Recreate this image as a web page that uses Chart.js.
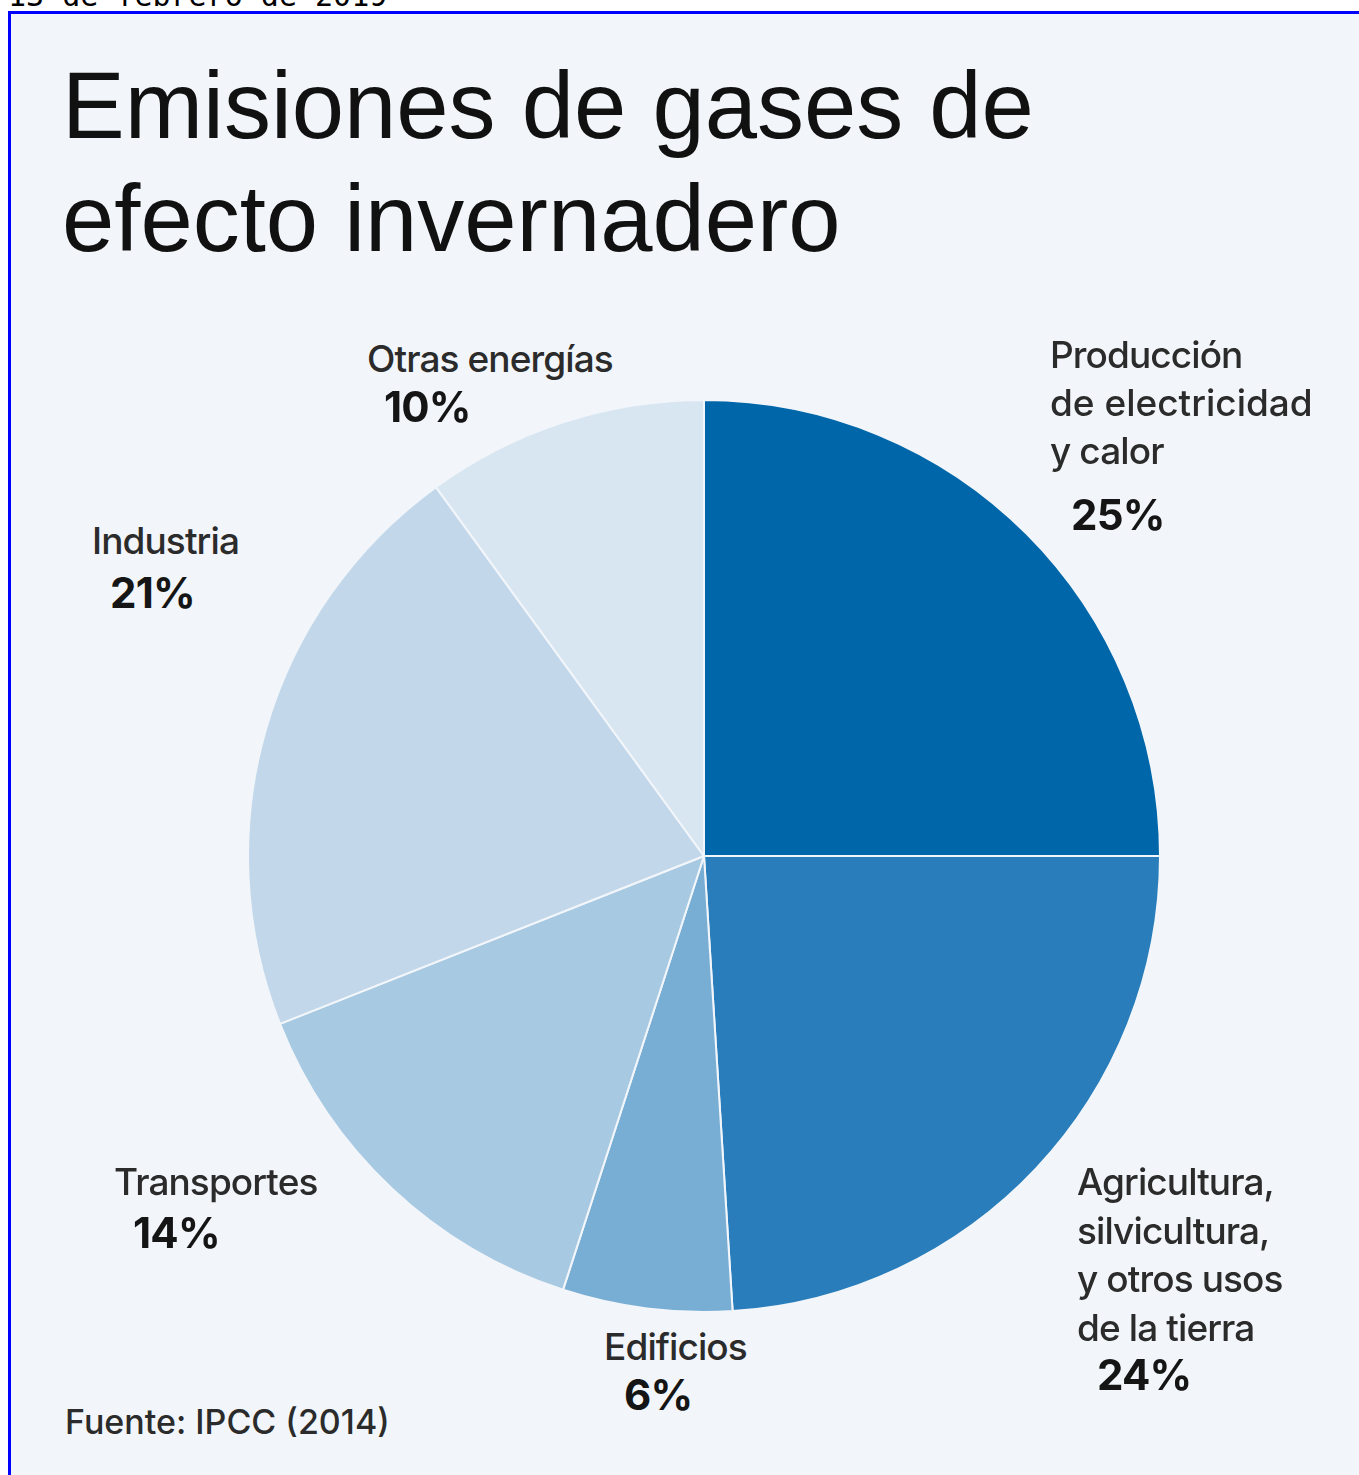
<!DOCTYPE html>
<html>
<head>
<meta charset="utf-8">
<script src="https://cdn.jsdelivr.net/npm/chart.js@4/dist/chart.umd.min.js"></script>
<style>
  html, body { margin:0; padding:0; background:#ffffff; width:1359px; height:1475px; overflow:hidden; }
  #date { position:absolute; left:8px; top:-22px; font-family:"DejaVu Sans Mono","Liberation Mono",monospace; font-size:30px; color:#000; white-space:nowrap; }
  #frame { position:absolute; left:8px; top:11px; width:1400px; height:1500px; border-left:3px solid #0000ff; border-top:3px solid #0000ff; background:#f2f6fa; }
  .title { position:absolute; left:62px; font-family:"Liberation Sans",Arial,sans-serif; font-size:94px; color:#111; white-space:nowrap; letter-spacing:0px; }
  .lab { position:absolute; font-family:Inter,"Noto Sans",sans-serif; font-size:37px; font-weight:500; color:#2b2b2b; white-space:nowrap; letter-spacing:-0.9px; line-height:47px; }
  .pct { position:absolute; font-family:Inter,"Noto Sans",sans-serif; font-size:42px; font-weight:700; color:#151515; white-space:nowrap; letter-spacing:-0.8px; }
  #chartWrap { position:absolute; left:247px; top:399px; width:914px; height:914px; }
  #src { position:absolute; left:65px; top:1401px; font-family:Inter,"Noto Sans",sans-serif; font-size:34px; font-weight:500; color:#2b2b2b; letter-spacing:0px; white-space:nowrap; }
</style>
</head>
<body>
<div id="date">13 de febrero de 2019</div>
<div id="frame"></div>
<div class="title" style="top:52px;">Emisiones de gases de</div>
<div class="title" style="top:165px;">efecto invernadero</div>
<div id="chartWrap"><canvas id="c" width="914" height="914"></canvas></div>

<div class="lab" style="left:367px;top:335px;">Otras energías</div>
<div class="pct" style="left:384px;top:381px;">10%</div>

<div class="lab" style="left:1050px;top:331px;line-height:48px;">Producción<br><span style="letter-spacing:0px">de electricidad</span><br>y calor</div>
<div class="pct" style="left:1071px;top:489px;">25%</div>

<div class="lab" style="left:92px;top:517px;">Industria</div>
<div class="pct" style="left:110px;top:567px;">21%</div>

<div class="lab" style="left:114px;top:1158px;">Transportes</div>
<div class="pct" style="left:133px;top:1207px;">14%</div>

<div class="lab" style="left:604px;top:1323px;">Edificios</div>
<div class="pct" style="left:624px;top:1369px;">6%</div>

<div class="lab" style="left:1077px;top:1158px;line-height:48.5px;">Agricultura,<br>silvicultura,<br>y otros usos<br>de la tierra</div>
<div class="pct" style="left:1097px;top:1349px;">24%</div>

<div id="src">Fuente: IPCC (2014)</div>

<script>
const categories = ["Producción de electricidad y calor", "Agricultura, silvicultura, y otros usos de la tierra", "Edificios", "Transportes", "Industria", "Otras energías"];
const values = [25, 24, 6, 14, 21, 10];
const sliceColors = ["#0066aa", "#287dba", "#78aed4", "#a7c9e2", "#c2d8ea", "#d8e6f2"];

new Chart(document.getElementById("c"), {
  type: "pie",
  data: {
    labels: categories,
    datasets: [{
      data: values,
      backgroundColor: sliceColors,
      borderColor: "#f2f6fa",
      borderWidth: 2
    }]
  },
  options: {
    responsive: false,
    animation: false,
    layout: { padding: 0 },
    plugins: { legend: { display: false }, tooltip: { enabled: false } }
  }
});
</script>
</body>
</html>
